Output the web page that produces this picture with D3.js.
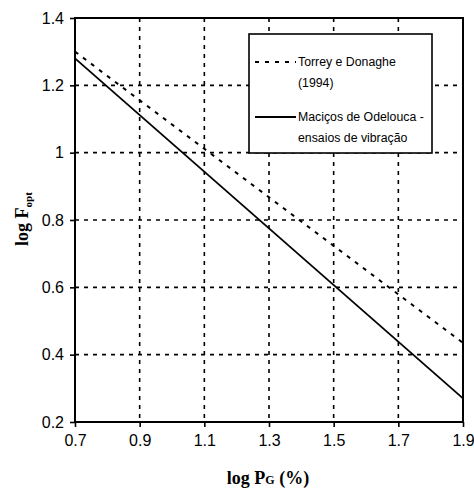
<!DOCTYPE html>
<html>
<head>
<meta charset="utf-8">
<script src="https://cdn.jsdelivr.net/npm/d3@7"></script>
<style>
  html, body { margin: 0; padding: 0; background: #fff; }
  svg { display: block; }
</style>
</head>
<body>
<svg id="chart" width="474" height="489"></svg>
<script>
// Abscissa (log PG, %) at the line endpoints
const logPG = [0.7, 1.9];
// log Fopt — Torrey e Donaghe (1994)
const torreyDonaghe = [1.30, 0.435];
// log Fopt — Maciços de Odelouca, ensaios de vibração
const odelouca = [1.28, 0.27];

const xTicks = [0.7, 0.9, 1.1, 1.3, 1.5, 1.7, 1.9];
const yTicks = [0.2, 0.4, 0.6, 0.8, 1.0, 1.2, 1.4];
const yTickLabels = ["0.2", "0.4", "0.6", "0.8", "1", "1.2", "1.4"];

const legendLabels = [
  ["Torrey e Donaghe", "(1994)"],
  ["Maciços de Odelouca -", "ensaios de vibração"]
];

const svg = d3.select("#chart");
const plot = { left: 75, right: 463, top: 18, bottom: 422 };

const x = d3.scaleLinear().domain([0.7, 1.9]).range([plot.left, plot.right]);
const y = d3.scaleLinear().domain([0.2, 1.4]).range([plot.bottom, plot.top]);

// dashed grid
const grid = svg.append("g")
  .attr("stroke", "#000").attr("stroke-width", 1.6).attr("stroke-dasharray", "4,5");
grid.selectAll("line.v").data(xTicks.slice(1, -1)).join("line")
  .attr("class", "v")
  .attr("x1", d => x(d)).attr("x2", d => x(d))
  .attr("y1", plot.top).attr("y2", plot.bottom);
grid.selectAll("line.h").data(yTicks.slice(1, -1)).join("line")
  .attr("class", "h")
  .attr("x1", plot.left).attr("x2", plot.right)
  .attr("y1", d => y(d)).attr("y2", d => y(d));

// data lines
const line = d3.line().x(d => x(d[0])).y(d => y(d[1]));
svg.append("path")
  .datum(d3.zip(logPG, torreyDonaghe))
  .attr("d", line).attr("fill", "none")
  .attr("stroke", "#000").attr("stroke-width", 2).attr("stroke-dasharray", "4,6");
svg.append("path")
  .datum(d3.zip(logPG, odelouca))
  .attr("d", line).attr("fill", "none")
  .attr("stroke", "#000").attr("stroke-width", 1.8);

// axes
const fontTick = "Liberation Sans, Arial, sans-serif";
const xAxis = svg.append("g").attr("transform", `translate(0,${plot.bottom})`)
  .call(d3.axisBottom(x).tickValues(xTicks).tickSize(5).tickPadding(8).tickFormat(d3.format(".1f")));
const yAxis = svg.append("g").attr("transform", `translate(${plot.left},0)`)
  .call(d3.axisLeft(y).tickValues(yTicks).tickSize(5).tickPadding(6)
    .tickFormat((d, i) => yTickLabels[i]));
[xAxis, yAxis].forEach(g => {
  g.select(".domain").remove();
  g.selectAll(".tick line").attr("stroke", "#000").attr("stroke-width", 1.6);
  g.selectAll(".tick text").attr("font-family", fontTick).attr("font-size", 16).attr("fill", "#000");
});

// frame
svg.append("rect")
  .attr("x", plot.left).attr("y", plot.top)
  .attr("width", plot.right - plot.left).attr("height", plot.bottom - plot.top)
  .attr("fill", "none").attr("stroke", "#000").attr("stroke-width", 2);

// legend
const lg = svg.append("g");
lg.append("rect").attr("x", 249).attr("y", 34).attr("width", 183).attr("height", 119)
  .attr("fill", "#fff").attr("stroke", "#000").attr("stroke-width", 1.6);
const sampleY = [62, 117];
const dashes = ["4,6", null];
legendLabels.forEach((lines, i) => {
  lg.append("line").attr("x1", 255).attr("x2", 296)
    .attr("y1", sampleY[i]).attr("y2", sampleY[i])
    .attr("stroke", "#000").attr("stroke-width", 1.8)
    .attr("stroke-dasharray", dashes[i]);
  lines.forEach((t, j) => {
    lg.append("text").attr("x", 298).attr("y", sampleY[i] + 4 + j * 21)
      .attr("font-family", fontTick).attr("font-size", 12.3).attr("fill", "#000")
      .text(t);
  });
});

// axis titles
const xt = svg.append("text").attr("x", 268).attr("y", 484).attr("text-anchor", "middle")
  .attr("font-family", "Liberation Serif, Times New Roman, serif").attr("font-weight", "bold")
  .attr("font-size", 18).attr("fill", "#000");
xt.append("tspan").text("log P");
xt.append("tspan").attr("font-size", 12).text("G");
xt.append("tspan").text(" (%)");

const yt = svg.append("text").attr("transform", "translate(28,219) rotate(-90)")
  .attr("text-anchor", "middle")
  .attr("font-family", "Liberation Serif, Times New Roman, serif").attr("font-weight", "bold")
  .attr("font-size", 18).attr("fill", "#000");
yt.append("tspan").text("log F");
yt.append("tspan").attr("font-size", 11).attr("dy", 4).text("opt");
</script>
</body>
</html>
